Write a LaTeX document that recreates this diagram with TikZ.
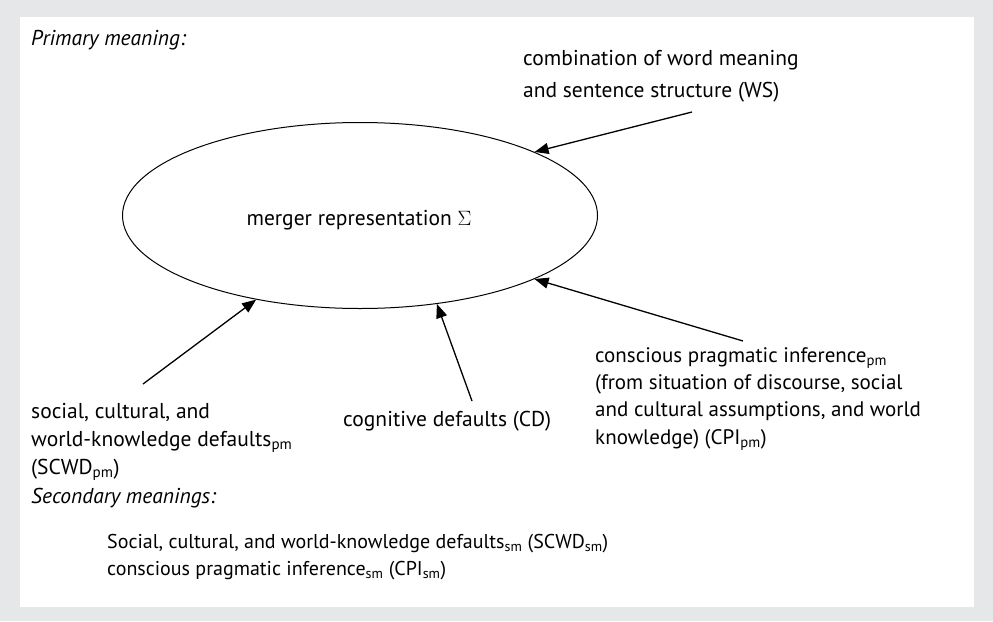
\documentclass[tikz,border=0pt]{standalone}
\usepackage{fontspec}
\setmainfont{PT Sans}
\usetikzlibrary{arrows.meta,shapes.geometric}
\definecolor{framegrey}{RGB}{230,231,232}

\begin{document}
\begin{tikzpicture}[x=1pt,y=-1pt,
  % multi-line labels are placed by the baseline of their last line
  lbl/.style={anchor=base west, inner sep=0pt, align=left, font=\fontsize{21.5}{28}\selectfont},
  heading/.style={lbl, font=\fontsize{21.5}{28}\selectfont\itshape},
  feed/.style={-{Triangle[length=14pt,width=11pt]}, line width=1.3pt},
]
% frame and panel
\fill[framegrey] (0,0) rectangle (993,621);
\fill[white] (20,17) rectangle (974,607);
\useasboundingbox (0,0) rectangle (993,621);

% central merger representation
\node[ellipse, draw, line width=1pt, minimum width=475pt, minimum height=186pt, inner sep=0pt] (merger) at (360,215.5) {};
\node[anchor=base, inner sep=0pt, font=\fontsize{21.5}{28}\selectfont] (mergertext) at (359,225) {merger representation $\Sigma$};

\node[heading] (primary) at (31,45) {Primary meaning:};

% sources feeding the merger
\node[lbl, font=\fontsize{21.5}{31.5}\selectfont] (ws) at (523,97)
  {combination of word meaning\\and sentence structure (WS)};
\node[lbl] (scwd) at (31,474)
  {social, cultural, and\\world-knowledge defaults\textsubscript{pm}\\(SCWD\textsubscript{pm})};
\node[lbl] (cd) at (343,426) {cognitive defaults (CD)};
\node[lbl, font=\fontsize{21}{27.3}\selectfont] (cpi) at (595,444)
  {conscious pragmatic inference\textsubscript{pm}\\(from situation of discourse, social\\and cultural assumptions, and world\\knowledge) (CPI\textsubscript{pm})};

% secondary meanings
\node[heading] (secondary) at (31,503) {Secondary meanings:};
\node[lbl, font=\fontsize{20}{27}\selectfont] (smlist) at (107,575)
  {Social, cultural, and world-knowledge defaults\textsubscript{sm} (SCWD\textsubscript{sm})\\conscious pragmatic inference\textsubscript{sm} (CPI\textsubscript{sm})};

% arrow tails
\coordinate (wsfoot) at (692,112);
\coordinate (scwdfoot) at (143,384);
\coordinate (cdfoot) at (472,401);
\coordinate (cpifoot) at (743,341);

\draw[feed] (wsfoot) -- (merger.20.5);
\draw[feed] (scwdfoot) -- (merger.219);
\draw[feed] (cdfoot) -- (merger.311);
\draw[feed] (cpifoot) -- (merger.340);
\end{tikzpicture}
\end{document}
